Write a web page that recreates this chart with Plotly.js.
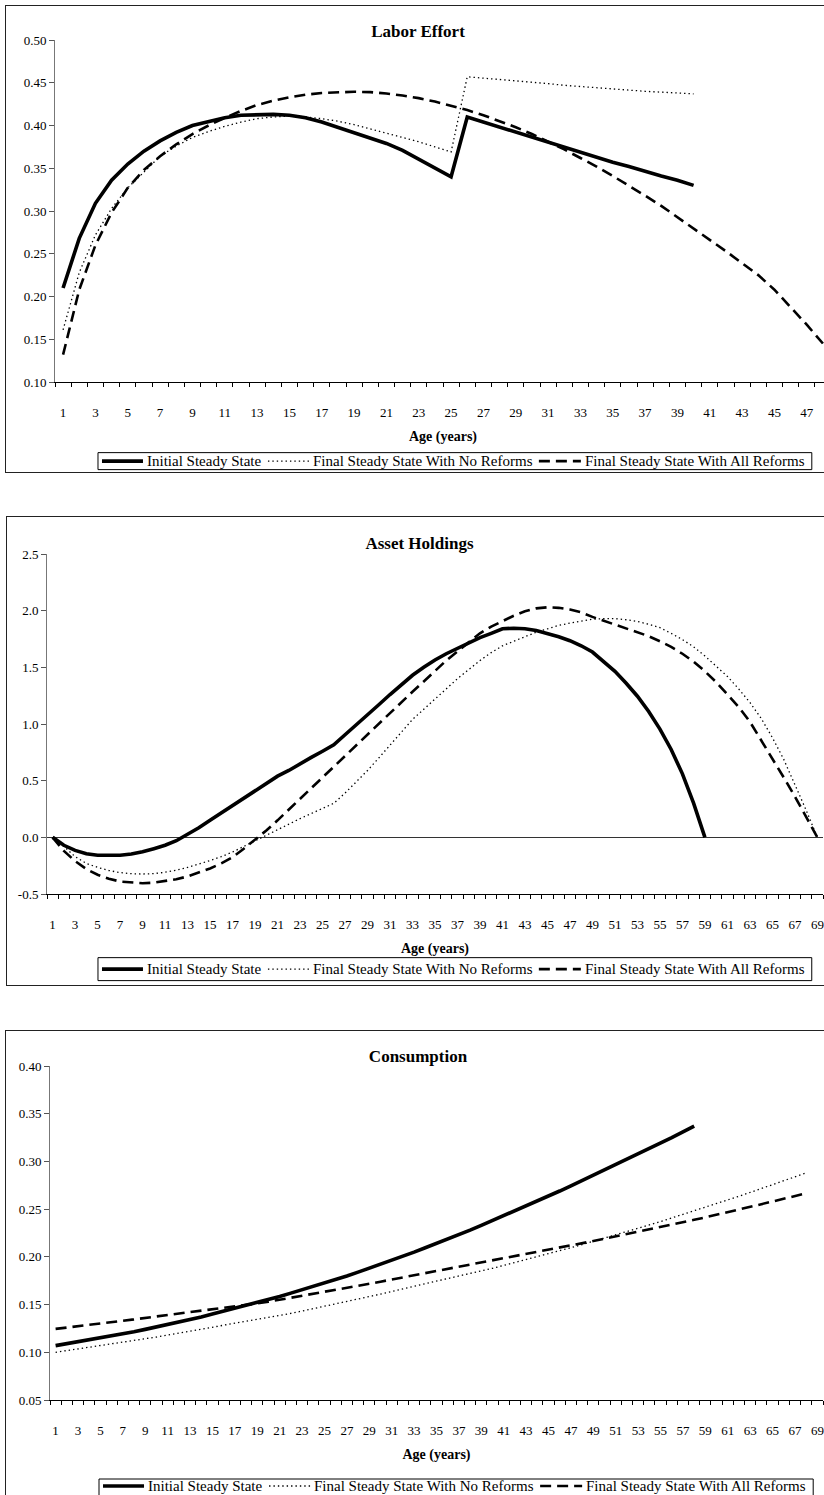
<!DOCTYPE html>
<html>
<head>
<meta charset="utf-8">
<script src="https://cdn.plot.ly/plotly-3.0.1.min.js"></script>
<style>
html,body{margin:0;padding:0;background:#fff;overflow:hidden;}
body{width:824px;height:1495px;position:relative;}
.chart{position:absolute;left:0;width:860px;}
.frame{position:absolute;border:1.5px solid #222;pointer-events:none;box-sizing:border-box;}
</style>
</head>
<body>
<div id="c1" class="chart" style="top:0;height:480px"></div>
<div id="c2" class="chart" style="top:500px;height:500px"></div>
<div id="c3" class="chart" style="top:1010px;height:485px"></div>
<div class="frame" style="left:5px;top:5px;width:900px;height:468px"></div>
<div class="frame" style="left:6px;top:516px;width:900px;height:470px"></div>
<div class="frame" style="left:5px;top:1030px;width:900px;height:520px"></div>
<script>
// ---------- categories / tick labels ----------
const laborAges = [1,2,3,4,5,6,7,8,9,10,11,12,13,14,15,16,17,18,19,20,21,22,23,24,25,26,27,28,29,30,31,32,33,34,35,36,37,38,39,40,41,42,43,44,45,46,47,48];
const lifeAges = [1,2,3,4,5,6,7,8,9,10,11,12,13,14,15,16,17,18,19,20,21,22,23,24,25,26,27,28,29,30,31,32,33,34,35,36,37,38,39,40,41,42,43,44,45,46,47,48,49,50,51,52,53,54,55,56,57,58,59,60,61,62,63,64,65,66,67,68,69];
const laborXTicks = ['1','3','5','7','9','11','13','15','17','19','21','23','25','27','29','31','33','35','37','39','41','43','45','47'];
const lifeXTicks = ['1','3','5','7','9','11','13','15','17','19','21','23','25','27','29','31','33','35','37','39','41','43','45','47','49','51','53','55','57','59','61','63','65','67','69'];
const laborYTicks = ['0.10','0.15','0.20','0.25','0.30','0.35','0.40','0.45','0.50'];
const assetYTicks = ['-0.5','0.0','0.5','1.0','1.5','2.0','2.5'];
const consYTicks = ['0.05','0.10','0.15','0.20','0.25','0.30','0.35','0.40'];
const seriesNames = ['Initial Steady State','Final Steady State With No Reforms','Final Steady State With All Reforms'];
const chartTitles = ['Labor Effort','Asset Holdings','Consumption'];
const xTitle = 'Age (years)';

// ---------- Labor Effort ----------
const laborInitial = [0.210,0.268,0.309,0.336,0.355,0.370,0.382,0.392,0.400,0.405,0.409,0.412,0.413,0.413,0.412,0.409,0.404,0.398,0.392,0.386,0.379,0.371,0.361,0.351,0.340,0.410,0.404,0.399,0.393,0.387,0.381,0.375,0.369,0.363,0.357,0.352,0.346,0.341,0.336,0.330];
const laborNoReform = [0.161,0.228,0.272,0.303,0.327,0.346,0.364,0.376,0.386,0.393,0.399,0.404,0.408,0.410,0.411,0.410,0.408,0.405,0.401,0.396,0.391,0.386,0.381,0.375,0.369,0.457,0.4555,0.454,0.452,0.4505,0.449,0.447,0.4455,0.444,0.443,0.441,0.440,0.439,0.438,0.437];
const laborAllReform = [0.132,0.208,0.260,0.298,0.327,0.348,0.364,0.378,0.390,0.400,0.409,0.417,0.424,0.429,0.433,0.436,0.438,0.439,0.4395,0.439,0.4375,0.435,0.432,0.428,0.423,0.418,0.412,0.405,0.398,0.390,0.381,0.372,0.362,0.352,0.341,0.330,0.318,0.306,0.293,0.280,0.266,0.253,0.239,0.225,0.208,0.188,0.167,0.145];

// ---------- Asset Holdings ----------
const assetInitial = [0,-0.070,-0.115,-0.145,-0.158,-0.162,-0.158,-0.147,-0.128,-0.100,-0.070,-0.030,0.025,0.085,0.150,0.215,0.280,0.350,0.415,0.480,0.540,0.590,0.650,0.705,0.760,0.816,0.905,0.990,1.080,1.170,1.260,1.345,1.430,1.500,1.565,1.620,1.670,1.718,1.762,1.800,1.840,1.845,1.840,1.825,1.800,1.770,1.735,1.690,1.635,1.555,1.465,1.360,1.245,1.110,0.955,0.775,0.560,0.300,0];
const assetNoReform = [0,-0.08,-0.17,-0.23,-0.265,-0.293,-0.311,-0.321,-0.324,-0.32,-0.308,-0.29,-0.265,-0.237,-0.205,-0.17,-0.13,-0.08,-0.03,0.02,0.07,0.12,0.165,0.21,0.255,0.30,0.39,0.49,0.59,0.70,0.815,0.93,1.04,1.13,1.22,1.31,1.40,1.48,1.56,1.63,1.69,1.73,1.77,1.81,1.84,1.87,1.89,1.91,1.925,1.93,1.93,1.92,1.905,1.88,1.85,1.80,1.745,1.68,1.60,1.51,1.42,1.31,1.19,1.05,0.88,0.69,0.47,0.24,0];
const assetAllReform = [0,-0.12,-0.21,-0.28,-0.33,-0.365,-0.39,-0.40,-0.405,-0.40,-0.388,-0.37,-0.345,-0.313,-0.275,-0.23,-0.175,-0.10,-0.02,0.06,0.15,0.245,0.34,0.43,0.53,0.625,0.72,0.815,0.91,1.0,1.095,1.19,1.285,1.375,1.465,1.56,1.64,1.72,1.80,1.86,1.91,1.955,1.995,2.02,2.03,2.025,2.01,1.985,1.945,1.91,1.875,1.845,1.81,1.775,1.73,1.68,1.62,1.55,1.465,1.37,1.26,1.15,1.02,0.86,0.70,0.53,0.36,0.18,0];

// ---------- Consumption ----------
const consInitial = [0.107,0.109,0.111,0.113,0.115,0.117,0.119,0.1215,0.124,0.1265,0.129,0.1315,0.134,0.137,0.140,0.143,0.146,0.149,0.152,0.155,0.1585,0.162,0.1655,0.169,0.1725,0.176,0.180,0.184,0.188,0.192,0.196,0.2005,0.205,0.2095,0.214,0.2185,0.223,0.228,0.233,0.238,0.243,0.248,0.253,0.258,0.2635,0.269,0.2745,0.280,0.2855,0.291,0.2965,0.302,0.3075,0.313,0.319,0.325,0.331,0.337];
const consNoReform = [0.100,0.1017,0.1034,0.1052,0.107,0.1088,0.1106,0.1124,0.1142,0.116,0.118,0.120,0.122,0.124,0.126,0.128,0.130,0.132,0.134,0.136,0.1384,0.1408,0.1432,0.1456,0.148,0.1506,0.1532,0.1558,0.1584,0.161,0.1638,0.1666,0.1694,0.1722,0.175,0.1776,0.1802,0.1828,0.1854,0.188,0.191,0.194,0.197,0.200,0.203,0.2063,0.2096,0.2129,0.2162,0.2195,0.223,0.2265,0.230,0.2335,0.237,0.2407,0.2444,0.2481,0.2518,0.2555,0.2595,0.2635,0.2675,0.2715,0.2755,0.2797,0.2838,0.288];
const consAllReform = [0.1245,0.1258,0.1271,0.1285,0.130,0.1315,0.133,0.1345,0.136,0.1375,0.139,0.1403,0.1417,0.143,0.1445,0.146,0.1477,0.1494,0.1512,0.153,0.155,0.157,0.159,0.161,0.163,0.1652,0.1674,0.1696,0.1718,0.174,0.1762,0.1784,0.1806,0.1828,0.185,0.1872,0.1894,0.1916,0.1938,0.196,0.1982,0.2004,0.2026,0.2048,0.207,0.2094,0.2118,0.2142,0.2166,0.219,0.2214,0.2238,0.2262,0.2286,0.231,0.2336,0.2362,0.2388,0.2414,0.244,0.2468,0.2496,0.2524,0.2552,0.258,0.2609,0.2638,0.2666];

// ---------- styling ----------
const FONT = '"Liberation Serif", "Times New Roman", Times, serif';
const lineStyles = [
  {color:'#000', width:3.6, dash:'solid'},
  {color:'#000', width:1.3, dash:'1.4px,3px'},
  {color:'#000', width:2.6, dash:'11px,6px'}
];
// legend entry geometry (px offsets from the legend box's left edge)
const legendItems = [
  {s0:4, s1:45, t:48},
  {s0:170, s1:212, t:214},
  {s0:441, s1:483, t:486}
];
const legendWidth = 714;

function makeTraces(ages, seriesList){
  return seriesList.map((vals,i)=>({
    type:'scatter', mode:'lines', name:seriesNames[i],
    x:ages.slice(0, vals.length), y:vals,
    line:lineStyles[i], hoverinfo:'skip', showlegend:false
  }));
}

function makeLayout(o){
  const pw = 860 - o.l - o.r, ph = o.h - o.t - o.b;
  const px2x = p => (p - o.l) / pw;
  const px2y = p => (o.t + ph - p) / ph;
  const L = o.lg.left;
  const shapes = [{type:'rect', xref:'paper', yref:'paper',
    x0:px2x(L), x1:px2x(L + legendWidth), y0:px2y(o.lg.bottom), y1:px2y(o.lg.top),
    line:{color:'#000', width:1}, fillcolor:'#fff', layer:'above'}];
  const annotations = [];
  legendItems.forEach((it,i)=>{
    shapes.push({type:'line', xref:'paper', yref:'paper',
      x0:px2x(L + it.s0), x1:px2x(L + it.s1), y0:px2y(o.lg.cy), y1:px2y(o.lg.cy),
      line:lineStyles[i], layer:'above'});
    annotations.push({xref:'paper', yref:'paper', x:px2x(L + it.t), y:px2y(o.lg.cy),
      xanchor:'left', yanchor:'middle', showarrow:false, text:seriesNames[i],
      font:{family:FONT, size:15, color:'#000'}, borderpad:0});
  });
  return {
    width:860, height:o.h,
    margin:{l:o.l, r:o.r, t:o.t, b:o.b, pad:0, autoexpand:false},
    paper_bgcolor:'rgba(0,0,0,0)', plot_bgcolor:'rgba(0,0,0,0)',
    showlegend:false,
    title:{text:o.title, font:{family:FONT, size:17, color:'#000', weight:'bold'},
      x:o.titleX, xref:'container', xanchor:'center', y:o.titleY, yref:'container', yanchor:'middle'},
    xaxis:{
      range:o.xr, tickmode:'array', tickvals:o.xt.map(Number), ticktext:o.xt,
      ticks:'', showline:true, linecolor:'#000', linewidth:1, mirror:false,
      showgrid:false, zeroline:false, automargin:false, fixedrange:true,
      tickfont:{family:FONT, size:13, color:'#000'}, ticklabelstandoff:18,
      minor:{tick0:0.5, dtick:1, ticks:'outside', ticklen:4, tickcolor:'#000', tickwidth:1, showgrid:false},
      title:{text:xTitle, font:{family:FONT, size:14, color:'#000', weight:'bold'}, standoff:12}
    },
    yaxis:{
      range:o.yr, tickmode:'array', tickvals:o.yt.map(Number), ticktext:o.yt,
      ticks:'outside', ticklen:5, tickcolor:'#555', tickwidth:1,
      showline:true, linecolor:'#777', linewidth:1,
      showgrid:false, zeroline:o.zl, zerolinecolor:'#333', zerolinewidth:1,
      automargin:false, fixedrange:true,
      tickfont:{family:FONT, size:13, color:'#000'}
    },
    shapes:shapes,
    annotations:annotations
  };
}

const cfg = {staticPlot:true, displayModeBar:false};

Plotly.newPlot('c1', makeTraces(laborAges, [laborInitial, laborNoReform, laborAllReform]),
  makeLayout({h:480, l:55, r:28.8, t:40, b:97.7, title:chartTitles[0], titleX:418/860, titleY:1-31/480,
    xr:[0.5,48.5], xt:laborXTicks, yr:[0.10,0.50], yt:laborYTicks, zl:false,
    lg:{left:98, top:453, bottom:470, cy:461.5}}), cfg);

Plotly.newPlot('c2', makeTraces(lifeAges, [assetInitial, assetNoReform, assetAllReform]),
  makeLayout({h:500, l:47, r:36.75, t:54, b:105.7, title:chartTitles[1], titleX:419.5/860, titleY:1-43/500,
    xr:[0.5,69.5], xt:lifeXTicks, yr:[-0.5,2.5], yt:assetYTicks, zl:true,
    lg:{left:98, top:458, bottom:481, cy:469.5}}), cfg);

Plotly.newPlot('c3', makeTraces(lifeAges, [consInitial, consNoReform, consAllReform]),
  makeLayout({h:485, l:50, r:37.2, t:56, b:95, title:chartTitles[2], titleX:418/860, titleY:1-46/485,
    xr:[0.5,69.5], xt:lifeXTicks, yr:[0.05,0.40], yt:consYTicks, zl:false,
    lg:{left:99, top:469, bottom:500, cy:476}}), cfg);
</script>
</body>
</html>
